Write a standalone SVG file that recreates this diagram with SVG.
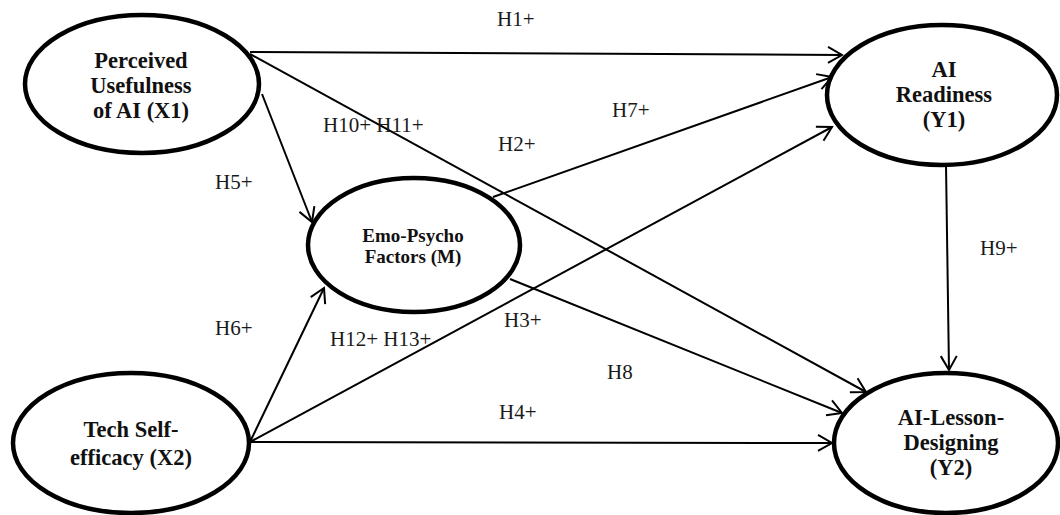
<svg xmlns="http://www.w3.org/2000/svg" width="1060" height="515" viewBox="0 0 1060 515">
<style>
.node{fill:#fff;stroke:#000;stroke-width:4.5}
.nt{font-family:"Liberation Serif","DejaVu Serif",serif;font-weight:bold;font-size:22.5px;fill:#111;text-anchor:middle}
.nts{font-size:19px}
.edge{stroke:#000;stroke-width:2;fill:none;marker-end:url(#arr)}
.lbl{font-family:"Liberation Serif","DejaVu Serif",serif;font-size:21px;fill:#1a1a1a}
</style>
<defs>
<marker id="arr" markerUnits="userSpaceOnUse" viewBox="-16 -10 18 20" markerWidth="18" markerHeight="20" refX="0" refY="0" orient="auto">
<path d="M-14,-8 L0,0 L-14,8" fill="none" stroke="#000" stroke-width="2"/>
</marker>
</defs>
<g id="connectors">
<line class="edge" x1="250" y1="52" x2="842" y2="55"/>
<line class="edge" x1="250" y1="54" x2="866" y2="392"/>
<line class="edge" x1="262" y1="94" x2="312" y2="222"/>
<line class="edge" x1="493" y1="197" x2="832" y2="77"/>
<line class="edge" x1="510" y1="279" x2="842" y2="413"/>
<line class="edge" x1="250" y1="442" x2="324" y2="288"/>
<line class="edge" x1="250" y1="442" x2="832" y2="127"/>
<line class="edge" x1="250" y1="442" x2="832" y2="443"/>
<line class="edge" x1="946" y1="165" x2="949" y2="370"/>
</g>
<g id="labels">
<text class="lbl" x="497" y="26">H1+</text>
<text class="lbl" x="323" y="132">H10+ H11+</text>
<text class="lbl" x="612" y="117">H7+</text>
<text class="lbl" x="498" y="151">H2+</text>
<text class="lbl" x="215" y="189">H5+</text>
<text class="lbl" x="980" y="255">H9+</text>
<text class="lbl" x="215" y="335">H6+</text>
<text class="lbl" x="330" y="346">H12+ H13+</text>
<text class="lbl" x="504" y="327">H3+</text>
<text class="lbl" x="607" y="379">H8</text>
<text class="lbl" x="499" y="419">H4+</text>
</g>
<g id="X1">
<ellipse class="node" cx="142" cy="84" rx="117" ry="69"/>
<text class="nt" x="141" y="68">Perceived</text>
<text class="nt" x="141" y="93">Usefulness</text>
<text class="nt" x="141" y="118">of AI (X1)</text>
</g>
<g id="Y1">
<ellipse class="node" cx="942" cy="95" rx="115" ry="70"/>
<text class="nt" x="944" y="77">AI</text>
<text class="nt" x="944" y="102">Readiness</text>
<text class="nt" x="944" y="127">(Y1)</text>
</g>
<g id="M">
<ellipse class="node" cx="414" cy="245" rx="106" ry="67"/>
<text class="nt nts" x="413" y="242">Emo-Psycho</text>
<text class="nt nts" x="413" y="263">Factors (M)</text>
</g>
<g id="X2">
<ellipse class="node" cx="131" cy="443" rx="118" ry="70"/>
<text class="nt" x="131" y="437">Tech Self-</text>
<text class="nt" x="131" y="465">efficacy (X2)</text>
</g>
<g id="Y2">
<ellipse class="node" cx="946" cy="443" rx="112" ry="70"/>
<text class="nt" x="951" y="425">AI-Lesson-</text>
<text class="nt" x="951" y="450">Designing</text>
<text class="nt" x="951" y="475">(Y2)</text>
</g>
</svg>
